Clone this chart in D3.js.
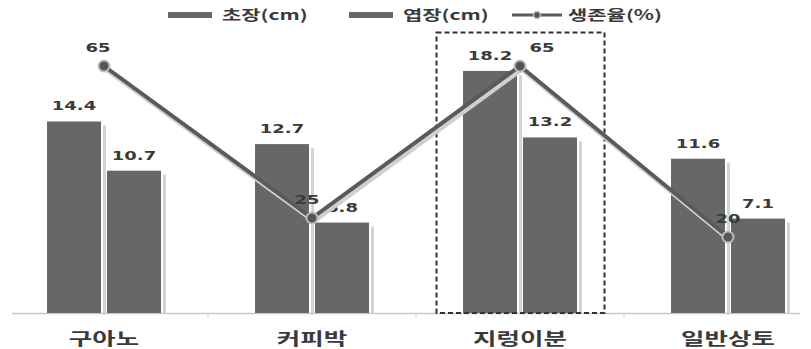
<!DOCTYPE html>
<html>
<head>
<meta charset="utf-8">
<script src="https://cdn.jsdelivr.net/npm/d3@7/dist/d3.min.js"></script>
<style>
  html, body { margin: 0; padding: 0; background: #fff; }
  svg { display: block; font-family: "Noto Sans CJK KR", "Noto Sans", sans-serif; }
</style>
</head>
<body>
<svg id="chart" width="811" height="349"></svg>
<script>
// Growth by growing medium
const categories = ["구아노", "커피박", "지렁이분", "일반상토"];
const plantHeight = [14.4, 12.7, 18.2, 11.6];   // 초장(cm)
const leafLength  = [10.7, 6.8, 13.2, 7.1];     // 엽장(cm)
const survival    = [65, 25, 65, 20];           // 생존율(%)
const seriesNames = ["초장(cm)", "엽장(cm)", "생존율(%)"];
const highlighted = "지렁이분";

const svg = d3.select("#chart");
const plotTop = 47, plotBottom = 313;
const textStretch = 1.5;   // wide lettering

const barColor = "#676767";
const lineColor = "#5a5a5a";
const textColor = "#3a3a3a";

const x0 = d3.scaleBand().domain(categories).range([0, 832]).padding(0);
const x1 = d3.scaleBand().domain([0, 1]).range([0, 114]).paddingInner(0.1);
const yBar = d3.scaleLinear().domain([0, 20]).range([plotBottom, plotTop]);
const yLine = d3.scaleLinear().domain([0, 70]).range([plotBottom, plotTop]);

const groupLeft = c => x0(c) + (x0.bandwidth() - 114) / 2;

// places a horizontally stretched text at (x, y)
function wideText(parent, x, y, str, opts) {
  const g = parent.append("g")
    .attr("transform", `translate(${x},${y}) scale(${textStretch},1)`);
  const t = g.append("text")
    .attr("text-anchor", opts.anchor || "middle")
    .attr("font-size", opts.size)
    .attr("font-weight", "bold")
    .attr("fill", textColor)
    .text(str);
  if (opts.family) t.attr("font-family", opts.family);
  return g;
}

// baseline axis
svg.append("line")
  .attr("x1", 12).attr("x2", 800)
  .attr("y1", plotBottom + 0.5).attr("y2", plotBottom + 0.5)
  .attr("stroke", "#c8c8c8").attr("stroke-width", 1.5);
categories.slice(1).forEach(c => {
  svg.append("line")
    .attr("x1", x0(c)).attr("x2", x0(c))
    .attr("y1", plotBottom).attr("y2", plotBottom + 4)
    .attr("stroke", "#c8c8c8").attr("stroke-width", 1);
});

// bars with a soft right-side shadow stripe
const barData = [];
categories.forEach((c, i) => {
  barData.push({ c, s: 0, v: plantHeight[i] });
  barData.push({ c, s: 1, v: leafLength[i] });
});
const bars = svg.append("g");
bars.selectAll("rect.shadow").data(barData).join("rect")
  .attr("class", "shadow")
  .attr("x", d => groupLeft(d.c) + x1(d.s) + x1.bandwidth() + 2)
  .attr("y", d => yBar(d.v) + 4)
  .attr("width", 3)
  .attr("height", d => plotBottom - yBar(d.v) - 4)
  .attr("fill", "#d4d4d4");
bars.selectAll("rect.bar").data(barData).join("rect")
  .attr("class", "bar")
  .attr("x", d => groupLeft(d.c) + x1(d.s))
  .attr("y", d => yBar(d.v))
  .attr("width", x1.bandwidth())
  .attr("height", d => plotBottom - yBar(d.v))
  .attr("fill", barColor);
const barLabels = svg.append("g");
barData.forEach(d => {
  wideText(barLabels, groupLeft(d.c) + x1(d.s) + x1.bandwidth() / 2, yBar(d.v) - 11,
    d.v.toFixed(1), { size: 12, family: "DejaVu Sans, sans-serif" });
});

// dashed highlight frame around one category
svg.append("rect")
  .attr("x", x0(highlighted) + 20.5).attr("y", 32.5)
  .attr("width", 168).attr("height", plotBottom - 32.5)
  .attr("fill", "none").attr("stroke", "#333")
  .attr("stroke-width", 2).attr("stroke-dasharray", "5,3");

// survival line
const pts = categories.map((c, i) => ({ c, v: survival[i], x: x0(c) + x0.bandwidth() / 2, y: yLine(survival[i]) }));
const line = d3.line().x(d => d.x).y(d => d.y);
svg.append("path").datum(pts)
  .attr("d", line).attr("transform", "translate(2,3)")
  .attr("fill", "none").attr("stroke", "#cfcfcf").attr("stroke-width", 5);
svg.append("path").datum(pts)
  .attr("d", line)
  .attr("fill", "none").attr("stroke", lineColor).attr("stroke-width", 4);
svg.selectAll("circle.pt").data(pts).join("circle")
  .attr("class", "pt")
  .attr("cx", d => d.x).attr("cy", d => d.y).attr("r", 5.5)
  .attr("fill", "#555").attr("stroke", "#bdbdbd").attr("stroke-width", 2);
const lineLabelDx = [-6, -5, 22, 0];
const lineLabels = svg.append("g");
pts.forEach((d, i) => {
  wideText(lineLabels, d.x + lineLabelDx[i], d.y - 14, d.v,
    { size: 12, family: "DejaVu Sans, sans-serif" });
});

// category labels
const catLabels = svg.append("g");
categories.forEach(c => {
  wideText(catLabels, x0(c) + x0.bandwidth() / 2, 345, c, { size: 17 });
});

// legend
const legend = svg.append("g");
const legendX = [168, 349, 512];
seriesNames.forEach((name, i) => {
  const g = legend.append("g").attr("transform", `translate(${legendX[i]},15)`);
  if (i < 2) {
    g.append("line").attr("x1", 0).attr("x2", 44).attr("y1", 0).attr("y2", 0)
      .attr("stroke", barColor).attr("stroke-width", 6);
  } else {
    g.append("line").attr("x1", 0).attr("x2", 50).attr("y1", 0).attr("y2", 0)
      .attr("stroke", lineColor).attr("stroke-width", 3);
    g.append("circle").attr("cx", 25).attr("cy", 0).attr("r", 3.5)
      .attr("fill", "#555").attr("stroke", "#bdbdbd").attr("stroke-width", 1.5);
  }
  wideText(g, i < 2 ? 54 : 56, 5, name, { size: 14, anchor: "start" });
});
</script>
</body>
</html>
